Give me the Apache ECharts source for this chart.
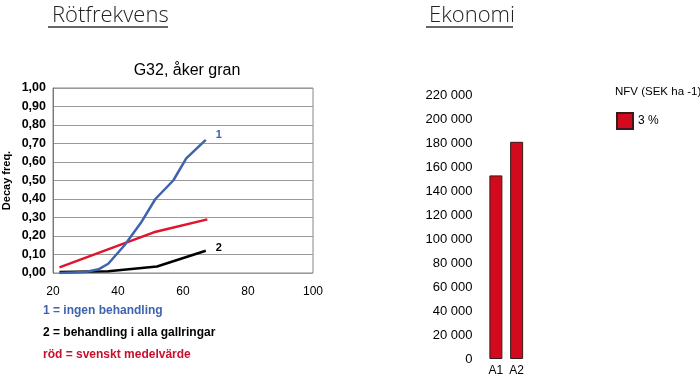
<!DOCTYPE html>
<html><head><meta charset="utf-8">
<script src="https://cdn.jsdelivr.net/npm/echarts@6/dist/echarts.min.js"></script>
<style>html,body{margin:0;padding:0;background:#fff}#c{width:700px;height:387px}</style>
</head><body><div id="c"></div>
<script>
// Left chart: decay frequency
const blueData = [[22,0.0],[30,0.005],[34,0.02],[37,0.05],[42,0.15],[47,0.27],[51.5,0.40],[57,0.50],[61,0.62],[67,0.72]];
const blackData = [[22,0.005],[37,0.01],[52,0.035],[67,0.12]];
const redData = [[22,0.03],[51,0.22],[67.5,0.29]];
// Right chart: economy
const barCategories = ['A1','A2'];
const barValues = [153000, 181000];

const chart = echarts.init(document.getElementById('c'));
const F = 'Arial, "Liberation Sans", sans-serif';
chart.setOption({
  animation:false,
  title:[
    {text:'Rötfrekvens', left:47, top:0, textStyle:{fontFamily:'"Open Sans", Lato, sans-serif', fontWeight:300, fontSize:22, color:'#222'}},
    {text:'Ekonomi', left:424, top:0, textStyle:{fontFamily:'"Open Sans", Lato, sans-serif', fontWeight:300, fontSize:22, color:'#222'}},
    {text:'G32, åker gran', left:182, top:58, textAlign:'center', textStyle:{fontFamily:F, fontWeight:'normal', fontSize:16, color:'#000'}}
  ],
  graphic:[
    {type:'line', shape:{x1:48,y1:27,x2:168,y2:27}, style:{stroke:'#333', lineWidth:1.5}},
    {type:'line', shape:{x1:426,y1:27,x2:513,y2:27}, style:{stroke:'#333', lineWidth:1.5}},
    {type:'text', left:43, top:305, style:{text:'1 = ingen behandling', fill:'#3f63ad', font:'bold 12px Arial, "Liberation Sans", sans-serif'}},
    {type:'text', left:43, top:327, style:{text:'2 = behandling i alla gallringar', fill:'#000', font:'bold 12px Arial, "Liberation Sans", sans-serif'}},
    {type:'text', left:43, top:349, style:{text:'röd = svenskt medelvärde', fill:'#c8102e', font:'bold 12px Arial, "Liberation Sans", sans-serif'}},
    {type:'text', left:615, top:86, style:{text:'NFV (SEK ha -1)', fill:'#000', font:'11.5px Arial, "Liberation Sans", sans-serif'}}
  ],
  legend:{
    show:true, left:616, top:112, itemWidth:16, itemHeight:16, itemGap:8, padding:0,
    icon:'rect',
    data:['3 %'],
    textStyle:{fontFamily:F, fontSize:12, color:'#000'}
  },
  grid:[
    {left:49, right:387, top:88, bottom:114, show:true, borderColor:'#888', borderWidth:1},
    {left:485.5, right:173, top:95, bottom:28}
  ],
  xAxis:[
    {gridIndex:0, type:'value', min:20, max:100, interval:20,
     axisLine:{show:false}, axisTick:{show:false}, splitLine:{show:false},
     axisLabel:{fontFamily:F, fontSize:12, color:'#000', margin:13}},
    {gridIndex:1, type:'category', data:barCategories,
     axisLine:{show:false}, axisTick:{show:false},
     axisLabel:{fontFamily:F, fontSize:12, color:'#000', margin:6}}
  ],
  yAxis:[
    {gridIndex:0, type:'value', min:0, max:1, interval:0.1,
     name:'Decay freq.', nameLocation:'middle', nameGap:41, nameRotate:90,
     nameTextStyle:{fontFamily:F, fontSize:11, fontWeight:'bold', color:'#000'},
     axisLine:{show:true, lineStyle:{color:'#777'}}, axisTick:{show:false},
     splitLine:{show:true, lineStyle:{color:'#999', width:1}},
     axisLabel:{fontFamily:F, fontSize:12.5, fontWeight:'bold', color:'#000', margin:7,
       formatter:v=>v.toFixed(2).replace('.',',')}},
    {gridIndex:1, type:'value', min:0, max:220000, interval:20000,
     axisLine:{show:false}, axisTick:{show:false}, splitLine:{show:false},
     axisLabel:{fontFamily:F, fontSize:13, color:'#000', margin:13,
       formatter:v=>v===0?'0':(Math.round(v/1000)+' 000')}}
  ],
  series:[
    {type:'line', xAxisIndex:0, yAxisIndex:0, data:redData, symbol:'none',
     lineStyle:{color:'#e0142d', width:2.5}},
    {type:'line', xAxisIndex:0, yAxisIndex:0, data:blackData, symbol:'none',
     lineStyle:{color:'#000', width:2.5},
     endLabel:{show:true, formatter:'2', offset:[2,-3], fontFamily:F, fontSize:11, fontWeight:'bold', color:'#000'}},
    {type:'line', xAxisIndex:0, yAxisIndex:0, data:blueData, symbol:'none',
     lineStyle:{color:'#3f63ad', width:2.5},
     endLabel:{show:true, formatter:'1', offset:[2,-5], fontFamily:F, fontSize:11, fontWeight:'bold', color:'#3f63ad'}},
    {name:'3 %', type:'bar', xAxisIndex:1, yAxisIndex:1, data:barValues, barWidth:13,
     itemStyle:{color:'#d20a1e', borderColor:'#3a1a1a', borderWidth:1}}
  ]
});
</script></body></html>
